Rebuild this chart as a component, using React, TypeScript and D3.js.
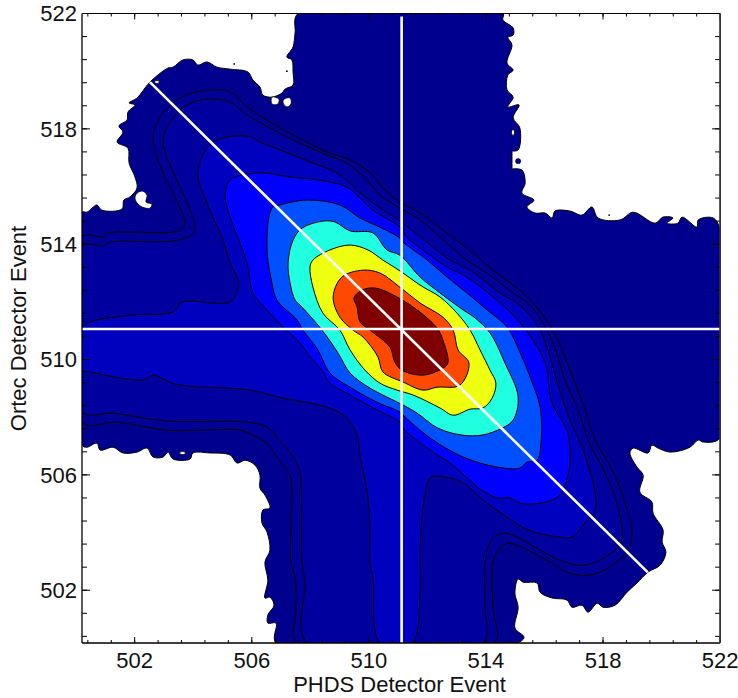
import React from "react";
import * as d3 from "d3";

type Pt = [number, number];

const xDomain: Pt = [500.2, 522];
const yDomain: Pt = [500.17, 522];
const majorTicks = [502, 506, 510, 514, 518, 522];
const minorTicks = d3.range(0, 27).map((i) => 500.4 + i * 0.8);
const xTitle = "PHDS Detector Event";
const yTitle = "Ortec Detector Event";

const levelColors = ["#00008F", "#000097", "#00009F", "#0000BF", "#0000FF", "#0050FF", "#20FFDF", "#EFFF10", "#FF4800", "#800000"];

const level0: Pt[] = [
  [500.2,515.11],[500.37,515.11],[500.54,515.25],[500.71,515.36],[500.88,515.18],[501.57,515.22],[501.63,515.53],[501.84,515.64],[502.08,515.95],[502.01,516.33],[501.81,516.81],[501.77,517.33],[501.4,517.54],[501.6,517.89],[501.46,518.1],[501.74,518.31],[501.77,518.58],[502.01,518.83],[501.81,518.9],[502.08,519.07],[502.52,519.62],[503.14,520.11],[503.31,520.14],[503.65,520.39],[503.99,520.39],[504.16,520.21],[504.47,520.32],[504.81,520.14],[505.26,520.07],[505.87,519.97],[506.04,519.69],[506.28,519.45],[506.38,519.17],[506.69,519.1],[507.03,519.24],[507.14,519.38],[507.41,519.52],[507.41,519.97],[507.37,520.39],[507.2,520.49],[507.41,520.84],[507.48,521.32],[507.58,522],
  [514.58,522],[514.58,521.77],[514.93,521.5],[514.93,521.25],[514.75,521.18],[514.89,520.91],[514.72,520.28],[514.93,520.04],[514.75,519.87],[514.72,519.35],[514.93,519.1],[514.75,518.76],[515.13,518.83],[514.93,518.38],[515.16,518.03],[515.1,517.27],[514.89,517.23],[514.89,517.23],[514.89,516.61],[514.89,516.61],[515.23,516.57],[515.34,516.12],[515.23,515.77],[515.64,515.53],[515.4,515.29],[515.68,515.08],[516.02,515.08],[516.26,514.91],[516.36,515.15],[516.87,515.15],[517.28,515.01],[517.62,515.29],[517.83,514.91],[518.58,514.84],[519.03,515.11],[519.78,514.73],[520.05,514.94],[520.39,514.91],[520.19,514.73],[520.56,514.73],[520.7,514.94],[521.21,514.59],[521.25,514.84],[521.76,514.91],[522,514.49],
  [522,507.28],[521.42,507.14],[521.25,507.21],[520.97,506.96],[520.29,506.79],[519.88,506.93],[519.67,507.03],[519.54,506.76],[519.03,506.93],[518.92,506.76],[519.16,506.27],[519.37,505.99],[519.26,505.4],[519.67,505.06],[519.71,504.67],[520.05,504.09],[520.02,503.67],[520.15,503.32],[519.95,502.87],[519.54,502.63],[519.16,502.25],[518.82,501.93],[518.41,501.48],[518,501.41],[517.8,501.55],[517.49,501.24],[517.28,501.48],[516.94,501.41],[516.77,501.66],[516.26,501.73],[515.85,501.93],[515.75,502.25],[515.27,502.28],[515.1,502.39],[514.99,501.9],[515.1,501.41],[514.99,500.69],[515.3,500.37],[515.06,500.17],
  [506.83,500.17],[506.83,500.86],[506.55,500.86],[506.55,501.14],[506.76,501.48],[506.62,501.76],[506.45,501.73],[506.55,502.35],[506.45,502.97],[506.62,503.39],[506.52,504.02],[506.35,504.33],[506.38,504.78],[506.62,504.85],[506.45,505.3],[506.28,505.54],[506.28,505.99],[506.11,506.34],[505.77,506.51],[505.5,506.41],[505.26,506.69],[504.57,506.76],[503.99,506.76],[503.89,506.55],[503.31,506.55],[503.14,506.79],[502.97,506.62],[502.63,506.62],[502.42,506.93],[502.08,506.79],[501.6,506.76],[501.26,506.96],[500.82,506.86],[500.71,507.1],[500.37,506.96],[500.2,507.03],
];

const level1: Pt[] = [
  [500.2,514.25],[500.92,514.25],[501.16,514.39],[503.31,514.42],[503.65,514.56],[503.72,514.77],[503.31,515.77],[502.97,516.47],[502.69,517.27],[502.63,517.79],[502.87,518.41],[503.45,519],[504.23,519.31],[505.26,519.28],[505.84,518.76],[506.62,518.24],[507.41,517.79],[508.57,517.2],[509.36,516.92],[510.04,516.47],[510.48,515.95],[511.06,515.46],[511.75,515.08],[512.67,514.39],[513.56,513.69],[514.24,513.1],[515.27,512.31],[515.68,511.89],[516.22,511.13],[516.53,510.5],[516.94,509.46],[517.39,508.25],[517.73,507.21],[518.31,506.17],[518.75,505.02],[518.99,503.98],[518.85,503.39],[518.31,502.87],[517.56,502.52],[516.87,502.59],[516.09,503.04],[515.06,503.56],[514.75,503.63],[514.48,503.46],[514.24,502.94],[514.24,501.41],[514.28,500.17],
  [507.55,500.17],[507.51,501.31],[507.48,502.45],[507.34,502.94],[507.34,505.89],[507.2,506.17],[506.86,506.62],[506.52,507.1],[506.04,507.38],[505.6,507.55],[503.1,507.55],[501.4,507.83],[500.2,507.83],
];

const level2: Pt[] = [
  [500.2,513.94],[500.92,513.94],[501.16,514.07],[503.31,514.11],[503.96,514.32],[504.06,514.59],[503.89,515.18],[503.45,516.22],[503.1,517.02],[502.97,517.54],[503.1,518.06],[503.79,518.83],[504.47,519.03],[505.26,518.93],[505.84,518.48],[506.62,518.03],[507.41,517.61],[508.57,517.09],[509.25,516.81],[509.94,516.22],[510.38,515.7],[511.06,515.25],[511.75,514.84],[512.43,514.25],[513.35,513.45],[514.04,513],[514.93,512.31],[515.51,511.89],[516.02,511.13],[516.36,510.4],[516.7,509.29],[517.15,508.25],[517.49,507.21],[518.07,506.06],[518.51,504.88],[518.65,503.84],[518.48,503.46],[517.39,502.87],[516.53,503.04],[514.82,503.95],[514.48,503.95],[514.14,503.67],[513.97,502.94],[513.97,501.41],[513.9,500.17],
  [507.89,500.17],[507.82,502.25],[507.72,502.94],[507.65,506.06],[507.48,506.51],[506.86,507.31],[506.52,507.66],[505.84,507.83],[503.1,507.87],[501.26,508.14],[500.2,508.18],
];

const level3: Pt[] = [
  [500.2,511.09],[500.47,511.3],[501.94,511.54],[503.31,511.65],[503.62,511.99],[505.26,511.99],[505.53,512.41],[505.53,512.76],[505.26,513.35],[505.02,514.14],[504.47,515.43],[504.16,516.5],[504.64,517.51],[505.84,517.75],[506.28,517.54],[506.97,517.27],[507.99,516.85],[508.91,516.47],[509.6,515.88],[510.14,515.43],[511.06,514.8],[511.99,514.07],[512.67,513.52],[513.56,513.03],[514.48,512.31],[515.16,511.89],[515.81,511.09],[516.12,510.33],[516.46,509.11],[516.94,507.73],[517.18,507.21],[517.66,505.72],[517.73,504.78],[517.32,504.26],[516.94,503.84],[516.53,503.84],[515.44,504.09],[514.72,504.54],[513.9,505.13],[513.22,505.72],[512.33,505.96],[512.09,505.89],[511.85,504.88],[511.75,503.15],[511.75,501.9],[511.47,500.17],
  [510.38,500.17],[510.14,502.45],[510.04,502.94],[510.04,504.09],[509.94,505.47],[509.7,506.62],[509.6,507.38],[509.25,507.97],[508.67,508.32],[507.65,508.56],[507.07,508.66],[505.94,508.94],[503.38,509.15],[502.63,509.46],[502.28,509.29],[500.47,509.57],[500.2,509.63],
];

const level4: Pt[] = [
  [505.09,515.7],[505.26,516.22],[506.21,516.47],[507.31,516.33],[508.33,516.22],[509.25,515.98],[509.7,515.6],[510.14,515.18],[511.06,514.59],[511.3,514.25],[511.99,513.69],[512.67,513.21],[513.35,512.86],[514.24,512.17],[514.82,511.65],[515.44,510.92],[516.02,509.88],[516.26,508.49],[516.8,507.45],[516.87,506.41],[516.84,506.17],[516.53,505.3],[515.85,505.02],[515.16,505.02],[514.82,505.2],[514.38,505.2],[513.8,505.51],[513.52,505.75],[512.77,506.41],[512.09,506.86],[511.17,507.62],[511.06,507.83],[510.28,508.25],[509.36,508.77],[508.67,509.18],[508.4,509.63],[508.09,509.98],[507.55,510.68],[507.07,511.13],[506.52,511.72],[506.04,512.31],[505.84,513.35],[505.26,514.94],
];

const level5: Pt[] = [
  [506.52,513.9],[506.69,515.25],[506.97,515.36],[507.89,515.53],[509.01,515.36],[509.7,514.91],[510.38,514.59],[511.06,514.21],[511.17,514.07],[511.99,513.45],[512.67,512.86],[513.35,512.31],[514.04,511.72],[514.72,511.13],[515.16,510.26],[515.51,509.39],[515.85,508.35],[515.88,507.1],[515.75,506.51],[515.4,506.44],[515.16,506.24],[514.38,506.27],[513.22,506.62],[512.09,507.28],[511.17,508.07],[511.06,508.18],[510.28,508.52],[509.36,509.04],[508.67,509.53],[508.26,510.33],[507.75,511.02],[507.55,511.37],[506.86,512.06],[506.69,512.65],
];

const level6: Pt[] = [
  [507.24,513.35],[507.41,514.14],[507.72,514.56],[508.43,514.8],[508.84,514.77],[509.36,514.46],[510.14,514.39],[510.62,513.8],[511.06,513.62],[511.75,512.86],[512.43,512.31],[513.22,511.72],[513.63,511.44],[514.14,510.92],[514.65,509.88],[515.1,508.7],[514.93,507.9],[514.55,507.62],[513.87,507.38],[513.18,507.38],[512.36,507.62],[511.65,508.14],[511.17,508.42],[510.04,509.01],[509.36,509.53],[508.95,510.22],[508.4,511.02],[507.65,511.89],[507.48,512.06],[507.31,512.65],
];

const level7: Pt[] = [
  [507.99,513.21],[508.09,513.45],[508.67,513.8],[509.36,513.97],[509.97,513.8],[510.48,513.45],[511.13,513.03],[511.75,512.58],[512.43,512.17],[513.01,511.61],[513.46,511.02],[513.8,510.33],[514.14,509.63],[514.34,509.18],[514.21,508.66],[513.9,508.32],[513.46,508.28],[512.88,508.07],[512.43,508.32],[511.51,508.77],[510.96,508.94],[510.38,509.18],[509.87,509.63],[509.36,510.33],[509.01,511.02],[508.43,511.61],[508.09,512.51],
];

const level8: Pt[] = [
  [508.78,512.17],[509.08,512.86],[509.8,513.1],[510.38,513],[511.06,512.51],[511.75,511.96],[512.53,511.47],[512.88,511.02],[513.05,510.33],[513.42,509.88],[513.11,509.11],[512.33,509.04],[511.85,508.94],[511.17,509.22],[510.48,509.57],[510.31,510.09],[509.8,510.78],[509.46,511.02],[509.01,511.47],
];

const level9: Pt[] = [
  [509.49,512.13],[509.77,512.41],[510.21,512.48],[510.83,512.24],[511.65,511.72],[512.33,511.09],[512.53,510.68],[512.7,509.88],[512.53,509.7],[511.85,509.46],[511.13,509.63],[510.89,509.91],[510.72,510.43],[510.04,511.02],[509.7,511.3],[509.6,511.82],
];

const levels = [level0, level1, level2, level3, level4, level5, level6, level7, level8, level9];

const whiteHoles: Pt[][] = [
  [[506.69,519.1],[506.93,519.03],[506.89,518.86],[506.69,518.86]],
  [[507.1,519.03],[507.31,519.07],[507.34,518.86],[507.2,518.76],[507.07,518.9]],
  [[502.01,515.6],[502.08,515.77],[502.28,515.84],[502.42,515.7],[502.39,515.46],[502.59,515.39],[502.52,515.25],[502.25,515.29],[502.08,515.43]],
  [[502.69,519.66],[502.83,519.66],[502.83,519.59],[502.69,519.59]],
  [[503.55,506.79],[503.72,506.79],[503.72,506.72],[503.55,506.72]],
  [[514.89,517.96],[514.96,517.96],[514.96,517.79],[514.89,517.79]],
];
const islandCenter: Pt = [515.1, 516.88];
const specks: Pt[] = [[505.4,520.25],[507.2,520.0],[518.21,515.01]];

const crossV: Pt[] = [[511.12,500.17],[511.12,521.9]];
const crossH: Pt[] = [[500.2,511.06],[522,511.06]];
const crossD: Pt[] = [[502.52,519.62],[519.53,502.62]];

const L = 82, R = 720.1, T = 13.5, B = 643;

export default function App() {
  const x = d3.scaleLinear().domain(xDomain).range([L, R]);
  const y = d3.scaleLinear().domain(yDomain).range([B, T]);
  const linear = d3.line<Pt>().x((d) => x(d[0])).y((d) => y(d[1]));
  const smooth = d3.line<Pt>().x((d) => x(d[0])).y((d) => y(d[1])).curve(d3.curveCatmullRomClosed.alpha(0.5));
  const font = "'Liberation Sans', Arial, sans-serif";
  return (
    <svg width={738} height={698} style={{ position: "absolute", left: 0, top: 0, background: "#fff" }} fontFamily={font}>
      <defs>
        <clipPath id="plot"><rect x={L} y={T} width={R - L} height={B - T} /></clipPath>
      </defs>
      <g clipPath="url(#plot)">
        {levels.map((poly, i) => (
          <path key={i} d={smooth(poly) || ""} fill={levelColors[i]} stroke="#000" strokeWidth={1} strokeLinejoin="round" />
        ))}
        {whiteHoles.map((poly, i) => (
          <path key={i} d={smooth(poly) || ""} fill="#fff" stroke="#000" strokeWidth={0.8} />
        ))}
        <circle cx={x(islandCenter[0])} cy={y(islandCenter[1])} r={2.6} fill={levelColors[0]} stroke="#000" strokeWidth={0.5} />
        {specks.map((p, i) => (
          <circle key={i} cx={x(p[0])} cy={y(p[1])} r={0.9} fill="#000" />
        ))}
        {[crossV, crossH, crossD].map((seg, i) => (
          <path key={i} d={linear(seg) || ""} fill="none" stroke="#fff" strokeWidth={2.6} />
        ))}
      </g>
      {minorTicks.map((t) => (
        <g key={t} stroke="#000" strokeWidth={1}>
          <line x1={x(t)} x2={x(t)} y1={B} y2={B - 3} />
          <line x1={x(t)} x2={x(t)} y1={T} y2={T + 3} />
          <line x1={L} x2={L + 5} y1={y(t)} y2={y(t)} />
          <line x1={R} x2={R - 5} y1={y(t)} y2={y(t)} />
        </g>
      ))}
      {majorTicks.map((t) => (
        <g key={t} stroke="#000" strokeWidth={1}>
          <line x1={x(t)} x2={x(t)} y1={B} y2={B - 6} />
          <line x1={x(t)} x2={x(t)} y1={T} y2={T + 6} />
          <line x1={L} x2={L + 8} y1={y(t)} y2={y(t)} />
          <line x1={R} x2={R - 8} y1={y(t)} y2={y(t)} />
        </g>
      ))}
      <line x1={L} x2={R} y1={T} y2={T} stroke="#000" strokeWidth={1} />
      <line x1={L} x2={L} y1={T} y2={B} stroke="#000" strokeWidth={1.3} />
      <line x1={L} x2={R} y1={B} y2={B} stroke="#000" strokeWidth={1.6} />
      <line x1={R} x2={R} y1={T} y2={B} stroke="#333" strokeWidth={1.8} />
      {majorTicks.map((t) => (
        <text key={t} x={x(t)} y={668} textAnchor="middle" fontSize={22} fill="#111">{t}</text>
      ))}
      {majorTicks.map((t) => (
        <text key={t} x={77} y={y(t)} dy="0.36em" textAnchor="end" fontSize={22} fill="#111">{t}</text>
      ))}
      <text x={399.5} y={692} textAnchor="middle" fontSize={22} fill="#111">{xTitle}</text>
      <text transform="translate(26,328.5) rotate(-90)" textAnchor="middle" fontSize={22} fill="#111">{yTitle}</text>
    </svg>
  );
}
